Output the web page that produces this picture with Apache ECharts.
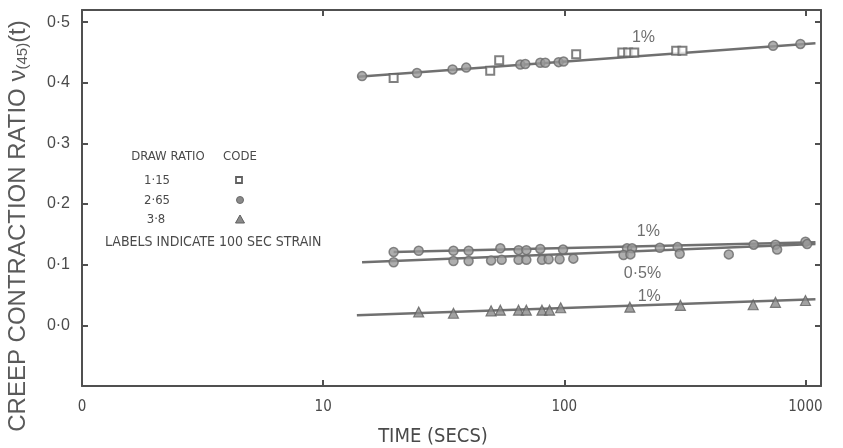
<!DOCTYPE html>
<html>
<head>
<meta charset="utf-8">
<script src="https://cdn.jsdelivr.net/npm/echarts@6/dist/echarts.min.js"></script>
<style>
html,body{margin:0;padding:0;background:#fff;}
#c{width:843px;height:448px;}
</style>
</head>
<body>
<div id="c"></div>
<script>
// ---- data (time in seconds, creep contraction ratio) ----
const topSquares = [[19.6,0.408],[49.3,0.420],[53.7,0.437],[112,0.447],[174,0.450],[184,0.450],[195,0.450],[291,0.453],[309,0.453]];
const topCircles = [[14.5,0.411],[24.5,0.416],[34.4,0.422],[39.2,0.425],[65.7,0.430],[68.9,0.431],[79.5,0.433],[83.4,0.433],[94.7,0.434],[99.3,0.435],[734,0.461],[953,0.464]];
const topFit = [[13.9,0.410],[1100,0.465]];

const mid1Circles = [[19.6,0.121],[24.9,0.123],[34.7,0.123],[40.1,0.123],[54.3,0.127],[64.6,0.124],[69.6,0.124],[79.5,0.126],[98.8,0.125],[182,0.127],[191,0.127],[249,0.128],[295,0.129],[610,0.133],[751,0.133],[1000,0.138]];
const mid1Fit = [[19.6,0.121],[1100,0.137]];

const mid05Circles = [[19.6,0.104],[34.7,0.106],[40.1,0.106],[49.7,0.107],[55,0.108],[64.6,0.108],[69.6,0.108],[80.8,0.108],[86.1,0.109],[95.6,0.109],[109,0.110],[176,0.116],[188,0.117],[301,0.118],[481,0.117],[763,0.125],[1016,0.134]];
const mid05Fit = [[14.5,0.104],[1100,0.134]];

const bottomTriangles = [[24.9,0.022],[34.7,0.020],[49.7,0.024],[54.3,0.025],[64.6,0.025],[69.6,0.025],[80.8,0.025],[86.9,0.025],[96.6,0.029],[187,0.030],[303,0.033],[607,0.034],[751,0.038],[1000,0.041]];
const bottomFit = [[13.8,0.0165],[1100,0.043]];

const pctX = [213, 223, 211, 225];
const pctY = [0.475, 0.154, 0.086, 0.047];
const pctText = ['1%', '1%', '0·5%', '1%'];

const xTickValues = [1, 10, 100, 1000];
const xTickLabels = ['0', '10', '100', '1000'];
const yTickValues = [0, 0.1, 0.2, 0.3, 0.4, 0.5];
const yTickLabels = ['0·0', '0·1', '0·2', '0·3', '0·4', '0·5'];

const legendRatios = ['1·15', '2·65', '3·8'];

// ---- chart ----
const ink = '#4a4a4a';
const lineInk = '#707070';
const narrow = "'Liberation Sans Narrow','DejaVu Sans Condensed','Liberation Sans',sans-serif";
const sans = "'Liberation Sans','DejaVu Sans',sans-serif";

function xLabel(v){
  for (let i=0;i<xTickValues.length;i++) if (Math.abs(v - xTickValues[i]) < 1e-6*xTickValues[i]) return xTickLabels[i];
  return '';
}
function yLabel(v){
  for (let i=0;i<yTickValues.length;i++) if (Math.abs(v - yTickValues[i]) < 1e-6) return yTickLabels[i];
  return '';
}

const pctData = pctX.map((x,i)=>({value:[x,pctY[i]], name:pctText[i]}));

const chart = echarts.init(document.getElementById('c'), null, {renderer:'canvas'});

function axisCommon(){
  return {
    axisLine:{show:true, onZero:false, lineStyle:{color:'#505050', width:2}},
    axisTick:{show:true, inside:true, length:6, lineStyle:{color:'#505050', width:2}},
    splitLine:{show:false},
    minorTick:{show:false}
  };
}

const option = {
  animation:false,
  backgroundColor:'#ffffff',
  grid:{left:82, right:22, top:10, bottom:62, containLabel:false},
  xAxis:[
    Object.assign({type:'log', logBase:10, min:1, max:1160, position:'bottom',
      axisLabel:{show:true, formatter:xLabel, color:ink, fontFamily:narrow, fontSize:15, margin:14}}, axisCommon()),
    Object.assign({type:'log', logBase:10, min:1, max:1160, position:'top',
      axisLabel:{show:false}}, axisCommon())
  ],
  yAxis:[
    Object.assign({type:'value', min:-0.1, max:0.52, interval:0.1, position:'left',
      axisLabel:{show:true, formatter:yLabel, color:ink, fontFamily:sans, fontSize:16, margin:12}}, axisCommon()),
    Object.assign({type:'value', min:-0.1, max:0.52, interval:0.1, position:'right',
      axisLabel:{show:false}}, axisCommon())
  ],
  series:[
    {type:'line', data:topFit, symbol:'none', lineStyle:{color:lineInk, width:2.5}, z:2},
    {type:'line', data:mid1Fit, symbol:'none', lineStyle:{color:lineInk, width:2.5}, z:2},
    {type:'line', data:mid05Fit, symbol:'none', lineStyle:{color:lineInk, width:2.5}, z:2},
    {type:'line', data:bottomFit, symbol:'none', lineStyle:{color:lineInk, width:2.5}, z:2},
    {type:'scatter', name:'1·15', data:topSquares, symbol:'rect', symbolSize:8,
      itemStyle:{color:'#ffffff', borderColor:'#606060', borderWidth:2}, z:4},
    {type:'scatter', name:'1·15c', data:topCircles, symbol:'circle', symbolSize:9,
      itemStyle:{color:'#9a9a9a', borderColor:'#6a6a6a', borderWidth:1.5}, z:4},
    {type:'scatter', name:'2·65a', data:mid1Circles, symbol:'circle', symbolSize:9,
      itemStyle:{color:'#9a9a9a', borderColor:'#6a6a6a', borderWidth:1.5}, z:4},
    {type:'scatter', name:'2·65b', data:mid05Circles, symbol:'circle', symbolSize:9,
      itemStyle:{color:'#9a9a9a', borderColor:'#6a6a6a', borderWidth:1.5}, z:4},
    {type:'scatter', name:'3·8', data:bottomTriangles, symbol:'triangle', symbolSize:10,
      itemStyle:{color:'#8a8a8a', borderColor:'#606060', borderWidth:1.2}, z:4},
    {type:'scatter', data:pctData, symbolSize:0, z:5,
      label:{show:true, position:'inside', formatter:p=>p.name, color:ink, fontFamily:sans, fontSize:16}}
  ],
  graphic:[
    {type:'text', x:18, y:226, rotation:Math.PI/2, z:10,
      style:{text:'CREEP CONTRACTION RATIO ν{s|(45)}(t)', fill:'#5a5a5a', font:"24px "+sans,
        align:'center', verticalAlign:'middle',
        rich:{s:{fontSize:15, fill:'#5a5a5a', fontFamily:sans, verticalAlign:'bottom', padding:[9,0,0,0]}}}},
    {type:'text', x:433, y:437, z:10,
      style:{text:'TIME (SECS)', fill:ink, font:"20px "+narrow, align:'center', verticalAlign:'middle'}},
    {type:'text', x:168, y:157, z:10,
      style:{text:'DRAW RATIO', fill:ink, font:"13px "+narrow, align:'center', verticalAlign:'middle'}},
    {type:'text', x:240, y:157, z:10,
      style:{text:'CODE', fill:ink, font:"13px "+narrow, align:'center', verticalAlign:'middle'}},
    {type:'text', x:157, y:181, z:10,
      style:{text:legendRatios[0], fill:ink, font:"13px "+narrow, align:'center', verticalAlign:'middle'}},
    {type:'text', x:157, y:201, z:10,
      style:{text:legendRatios[1], fill:ink, font:"13px "+narrow, align:'center', verticalAlign:'middle'}},
    {type:'text', x:156, y:220, z:10,
      style:{text:legendRatios[2], fill:ink, font:"13px "+narrow, align:'center', verticalAlign:'middle'}},
    {type:'rect', shape:{x:236, y:177, width:6, height:6}, z:10,
      style:{fill:'#ffffff', stroke:'#606060', lineWidth:1.8}},
    {type:'circle', shape:{cx:240, cy:200, r:3.5}, z:10,
      style:{fill:'#8a8a8a', stroke:'#6a6a6a', lineWidth:1}},
    {type:'polygon', shape:{points:[[240,215],[244.5,223],[235.5,223]]}, z:10,
      style:{fill:'#8a8a8a', stroke:'#606060', lineWidth:1}},
    {type:'text', x:105, y:242, z:10,
      style:{text:'LABELS INDICATE 100 SEC STRAIN', fill:ink, font:"14px "+narrow, align:'left', verticalAlign:'middle'}}
  ]
};
chart.setOption(option);
</script>
</body>
</html>
